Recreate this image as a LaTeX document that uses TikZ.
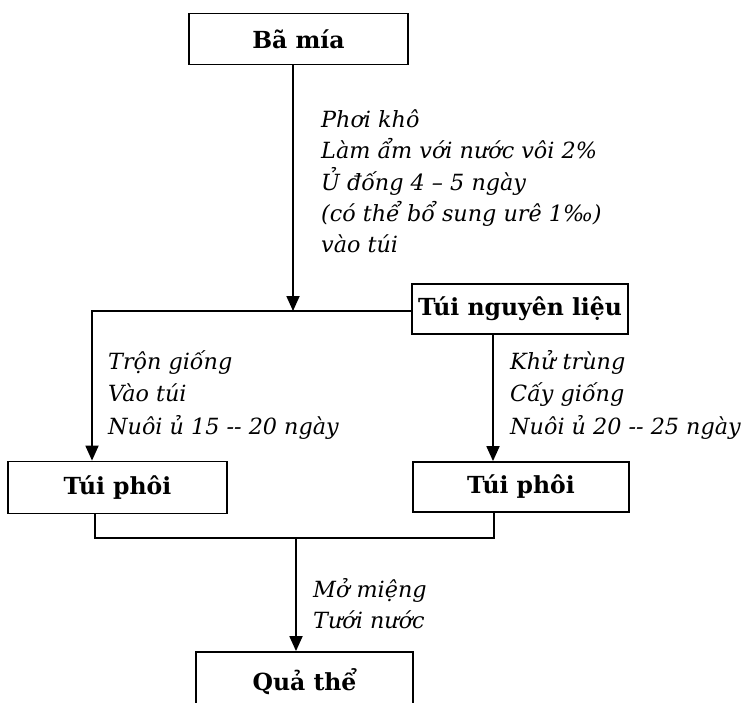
\documentclass[tikz,border=0pt]{standalone}
\usepackage{fontspec}
\setmainfont{DejaVu Serif}
\usetikzlibrary{arrows.meta}
\begin{document}
\begin{tikzpicture}[x=1pt,y=-1pt,
  box/.style={draw,line width=1.8pt,minimum width=#1,minimum height=51pt,
    inner sep=0pt,font=\bfseries\fontsize{23.5}{28}\selectfont},
  notes/.style={anchor=base west,inner sep=0pt,
    font=\itshape\fontsize{22.3}{31}\selectfont},
  link/.style={line width=1.8pt},
  flow/.style={line width=1.8pt,-{Triangle[width=13pt,length=15pt]}}]
\useasboundingbox (0,0) rectangle (747,702);
\clip (0,0) rectangle (747,702);

% process boxes
\node[box=219pt] (bamia) at (298.5,39) {Bã mía};
\node[box=216pt,minimum height=50pt] (tnl) at (520,309) {Túi nguyên liệu};
\node[box=219pt,minimum height=52pt] (tp1) at (117.5,487.5) {Túi phôi};
\node[box=216pt,minimum height=50pt] (tp2) at (521,487) {Túi phôi};
\node[box=217pt,minimum height=60pt] (qt) at (304.5,682) {Quả thể};

% junction points of the connectors
\coordinate (j1) at (293,311);
\coordinate (jl) at (92,311);
\coordinate (jb) at (296,538);
\coordinate (bl) at (95,538);
\coordinate (br) at (494,538);

% connectors
\draw[flow] (bamia.south -| j1) -- (j1);
\draw[flow] (tnl.west |- j1) -- (jl) -- (tp1.north -| jl);
\draw[flow] (tnl.south -| 493,0) -- (tp2.north -| 493,0);
\draw[link] (tp1.south -| bl) -- (bl) -- (br) -- (tp2.south -| br);
\draw[flow] (jb) -- (qt.north -| jb);

% step notes
\node[notes] (n1) at (321,127) {\begin{tabular}[t]{@{}l@{}}
  Phơi khô\\
  Làm ẩm với nước vôi 2\%\\
  Ủ đống 4 – 5 ngày\\
  (có thể bổ sung urê 1‰)\\
  vào túi\end{tabular}};
\node[notes] (n2) at (108,369) {\begin{tabular}[t]{@{}l@{}}
  Trộn giống\\[1.5pt]
  Vào túi\\[1.5pt]
  Nuôi ủ 15 -{}- 20 ngày\end{tabular}};
\node[notes] (n3) at (510,369) {\begin{tabular}[t]{@{}l@{}}
  Khử trùng\\[1.5pt]
  Cấy giống\\[1.5pt]
  Nuôi ủ 20 -{}- 25 ngày\end{tabular}};
\node[notes] (n4) at (313,597) {\begin{tabular}[t]{@{}l@{}}
  Mở miệng\\
  Tưới nước\end{tabular}};
\end{tikzpicture}
\end{document}
